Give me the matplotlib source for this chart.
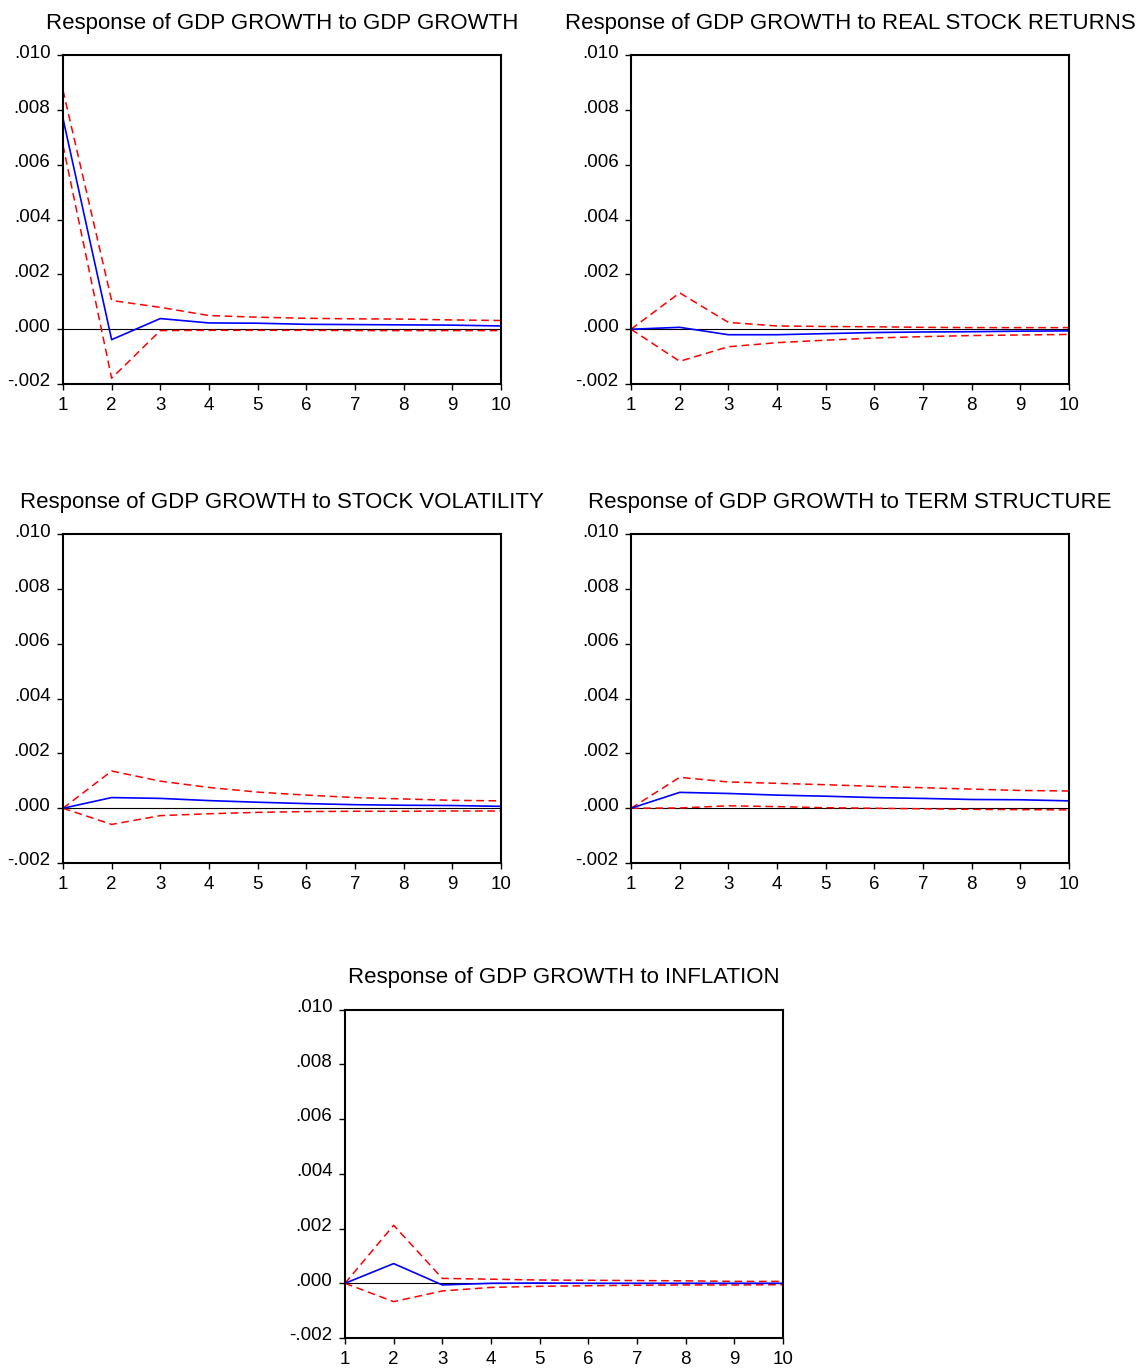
import numpy as np
import matplotlib.pyplot as plt
import matplotlib.ticker as mticker
import matplotlib.transforms as mtransforms

plt.rcParams['font.family'] = ['Liberation Sans', 'DejaVu Sans']

periods = list(range(1, 11))

titles = [
    "Response of GDP GROWTH to GDP GROWTH",
    "Response of GDP GROWTH to REAL STOCK RETURNS",
    "Response of GDP GROWTH to STOCK VOLATILITY",
    "Response of GDP GROWTH to TERM STRUCTURE",
    "Response of GDP GROWTH to INFLATION",
]

# impulse responses (blue) and +/- 2 s.e. bands (red dashed)
resp_gdp = [0.0077, -0.00038, 0.00039, 0.00023, 0.00022, 0.00018, 0.00017, 0.00016, 0.00015, 0.00012]
upper_gdp = [0.00873, 0.00105, 0.0008, 0.0005, 0.00044, 0.0004, 0.00038, 0.00037, 0.00034, 0.00032]
lower_gdp = [0.00672, -0.00179, -0.00005, -0.00004, -0.00004, -0.00004, -0.00005, -0.00005, -0.00005, -0.00005]

resp_ret = [0.0, 0.00007, -0.0002, -0.0002, -0.00016, -0.00012, -0.0001, -0.00009, -0.00007, -0.00006]
upper_ret = [0.0, 0.00133, 0.00025, 0.00012, 0.0001, 0.00009, 0.00007, 0.00006, 0.00006, 0.00006]
lower_ret = [0.0, -0.00117, -0.00064, -0.00049, -0.0004, -0.00032, -0.00027, -0.00023, -0.00021, -0.00019]

resp_vol = [0.0, 0.00039, 0.00036, 0.00028, 0.00022, 0.00017, 0.00013, 0.00011, 0.0001, 0.00007]
upper_vol = [0.0, 0.00136, 0.00099, 0.00076, 0.00059, 0.00048, 0.00039, 0.00034, 0.00029, 0.00027]
lower_vol = [0.0, -0.00059, -0.00027, -0.0002, -0.00015, -0.00012, -0.00011, -0.00011, -0.0001, -0.0001]

resp_term = [0.0, 0.00058, 0.00054, 0.00048, 0.00044, 0.00039, 0.00036, 0.00032, 0.00031, 0.00027]
upper_term = [0.0, 0.00113, 0.00096, 0.00091, 0.00086, 0.0008, 0.00075, 0.0007, 0.00065, 0.00063]
lower_term = [0.0, 0.00001, 0.00009, 0.00006, 0.00002, 0.0, -0.00002, -0.00004, -0.00005, -0.00006]

resp_inf = [0.0, 0.00072, -0.00006, 0.0, 0.00001, 0.0, 0.0, 0.0, 0.0, 0.0]
upper_inf = [0.0, 0.00212, 0.00018, 0.00015, 0.00012, 0.00011, 0.0001, 0.00009, 0.00007, 0.00007]
lower_inf = [0.0, -0.00067, -0.00028, -0.00015, -0.00011, -0.00009, -0.00007, -0.00006, -0.00006, -0.00005]

y_ticks = [-0.002, 0.0, 0.002, 0.004, 0.006, 0.008, 0.010]


def fmt_tick(v, pos):
    s = "%.3f" % v
    if s.startswith("-0"):
        return "-" + s[2:]
    if s.startswith("0"):
        return s[1:]
    return s


def draw_panel(fig, ax, title, resp, upper, lower):
    ax.axhline(0, color="black", lw=0.8)
    ax.plot(periods, upper, color="red", ls=(0, (5, 3)), lw=1.1)
    ax.plot(periods, lower, color="red", ls=(0, (5, 3)), lw=1.1)
    ax.plot(periods, resp, color="blue", lw=1.2)
    ax.set_xlim(1, 10)
    ax.set_ylim(-0.002, 0.010)
    ax.set_xticks(periods)
    ax.set_yticks(y_ticks)
    ax.yaxis.set_major_formatter(mticker.FuncFormatter(fmt_tick))
    ax.tick_params(direction="out", length=4, width=1, labelsize=13.5)
    ax.tick_params(axis="x", pad=5.5)
    ax.tick_params(axis="y", pad=5)
    for sp in ax.spines.values():
        sp.set_linewidth(1.5)
    # labels sit a little above their ticks
    shift = mtransforms.ScaledTranslation(0, 3 / 72, fig.dpi_scale_trans)
    for lab in ax.get_yticklabels():
        lab.set_transform(lab.get_transform() + shift)
    ax.set_title(title, fontsize=16, pad=19)


def main():
    fig = plt.figure(figsize=(11.45, 13.69), dpi=100)

    w = 0.3825
    h = 0.2400
    positions = [
        [0.0550, 0.7195, w, h],
        [0.5511, 0.7195, w, h],
        [0.0550, 0.3696, w, h],
        [0.5511, 0.3696, w, h],
        [0.3013, 0.0226, w, h],
    ]
    data = [
        (resp_gdp, upper_gdp, lower_gdp),
        (resp_ret, upper_ret, lower_ret),
        (resp_vol, upper_vol, lower_vol),
        (resp_term, upper_term, lower_term),
        (resp_inf, upper_inf, lower_inf),
    ]

    for pos, title, (r, u, l) in zip(positions, titles, data):
        ax = fig.add_axes(pos)
        draw_panel(fig, ax, title, r, u, l)

    fig.savefig("out.png", dpi=100)


if __name__ == "__main__":
    main()
